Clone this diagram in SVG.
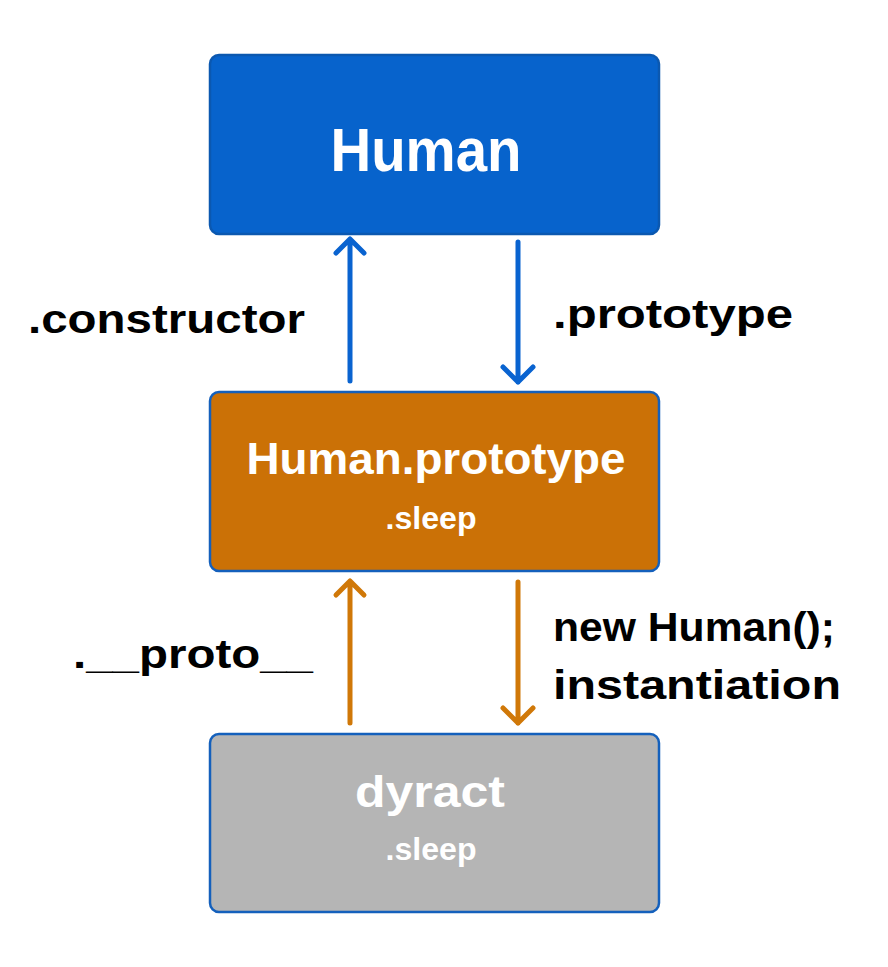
<svg xmlns="http://www.w3.org/2000/svg" width="888" height="967" viewBox="0 0 888 967">
<style>
.box{stroke-width:2.5}
.t{font-family:"Liberation Sans",Arial,sans-serif;font-weight:bold;text-anchor:middle;fill:#fff}
.lbl{font-family:"Liberation Sans",Arial,sans-serif;font-weight:bold;fill:#000;font-size:40px}
.blue{stroke:#0963D0;fill:none;stroke-width:5;stroke-linecap:round;stroke-linejoin:round}
.orange{stroke:#D07808;fill:none;stroke-width:5;stroke-linecap:round;stroke-linejoin:round}
</style>
<rect width="888" height="967" fill="#fff"/>
<g id="human">
<rect class="box" x="210" y="55" width="449" height="179" rx="9" fill="#0763CC" stroke="#0B58B0"/>
<text class="t" x="426" y="171" font-size="62" textLength="191" lengthAdjust="spacingAndGlyphs">Human</text>
</g>
<g id="human-prototype">
<rect class="box" x="210" y="392" width="449" height="179" rx="9" fill="#CB7106" stroke="#1460BC"/>
<text class="t" x="436" y="474" font-size="44" textLength="379" lengthAdjust="spacingAndGlyphs">Human.prototype</text>
<text class="t" x="431" y="529" font-size="32" textLength="91" lengthAdjust="spacingAndGlyphs">.sleep</text>
</g>
<g id="dyract">
<rect class="box" x="210" y="734" width="449" height="178" rx="9" fill="#B5B5B5" stroke="#1460BC"/>
<text class="t" x="430" y="807" font-size="44" textLength="150" lengthAdjust="spacingAndGlyphs">dyract</text>
<text class="t" x="431" y="860" font-size="32" textLength="91" lengthAdjust="spacingAndGlyphs">.sleep</text>
</g>
<g id="connectors">
<path class="blue" d="M350 381V240M336 253L350 239L364 253"/>
<path class="blue" d="M518 242V382M503 367L518 382L533 367"/>
<path class="orange" d="M350 723V582M336 595L350 581L364 595"/>
<path class="orange" d="M518 582V723M503 708L518 723L533 708"/>
</g>
<g id="labels">
<text class="lbl" x="28" y="333" textLength="277" lengthAdjust="spacingAndGlyphs">.constructor</text>
<text class="lbl" x="553" y="328" textLength="240" lengthAdjust="spacingAndGlyphs">.prototype</text>
<text class="lbl" x="73" y="668" textLength="240" lengthAdjust="spacingAndGlyphs">.__proto__</text>
<text class="lbl" x="553" y="641" textLength="282" lengthAdjust="spacingAndGlyphs">new Human();</text>
<text class="lbl" x="553" y="699" textLength="288" lengthAdjust="spacingAndGlyphs">instantiation</text>
</g>
</svg>
